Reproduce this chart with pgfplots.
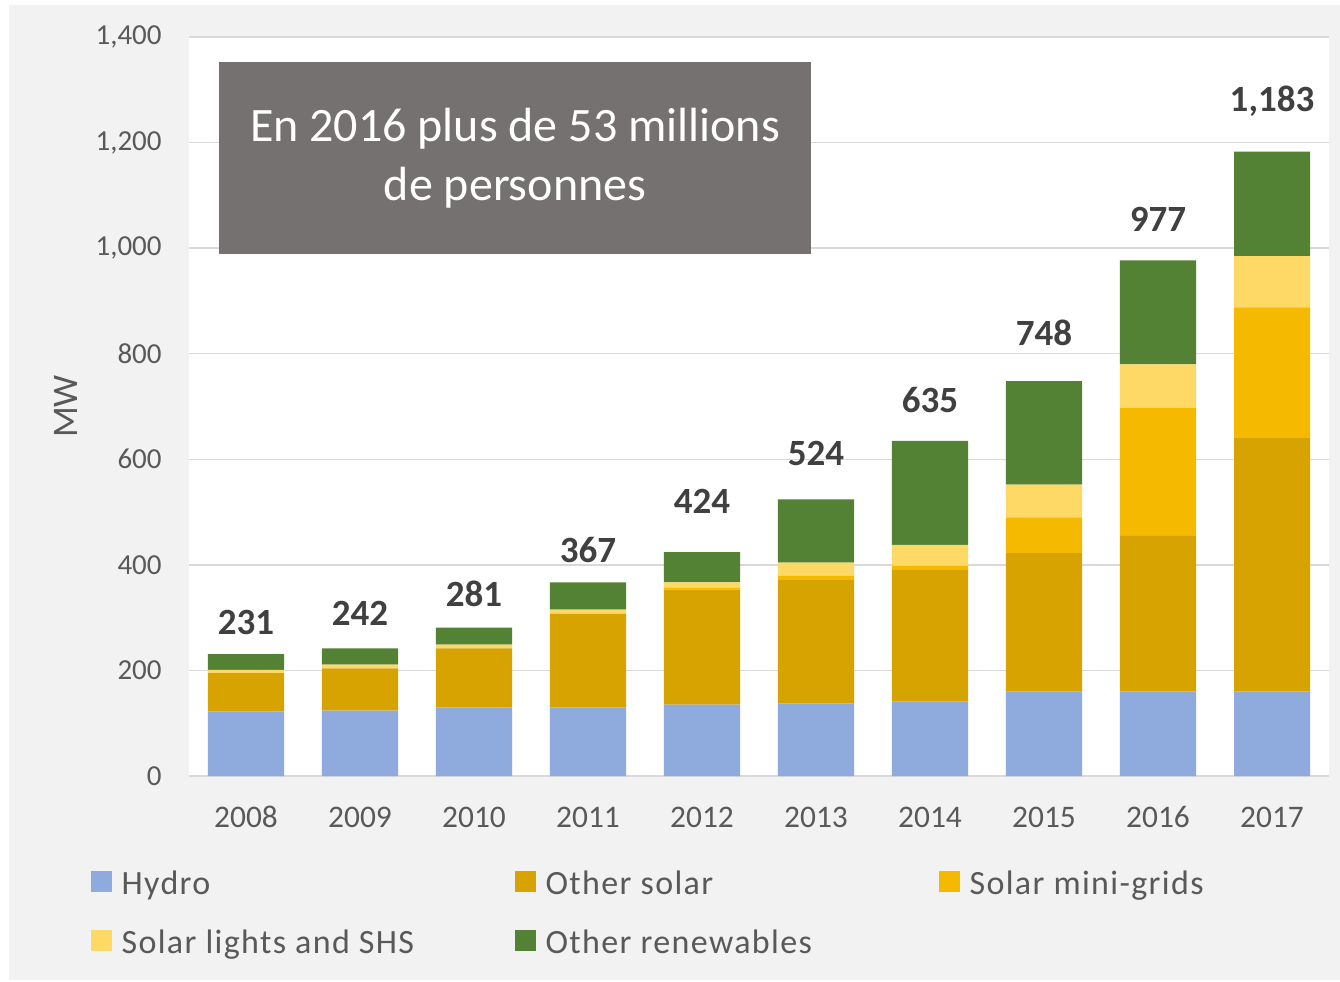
\documentclass[border=0pt]{standalone}
\usepackage{fontspec}
\setmainfont{Carlito}
\newfontfamily\legfont[LetterSpace=4]{Carlito}
\usepackage{pgfplots}
\usepackage{pgfplotstable}
\pgfplotsset{compat=1.18}

\definecolor{hydro}{HTML}{8FAADC}
\definecolor{othsolar}{HTML}{D6A300}
\definecolor{minigrid}{HTML}{F5BA00}
\definecolor{shs}{HTML}{FFD966}
\definecolor{othren}{HTML}{548235}
\definecolor{boxgray}{HTML}{767171}
\definecolor{bggray}{HTML}{F2F2F2}
\definecolor{gridgray}{HTML}{D9D9D9}
\definecolor{tickgray}{HTML}{595959}
\definecolor{labgray}{HTML}{404040}

% MW by year, off = label offset above bar top (pt)
\pgfplotstableread{
x hydro other mini shs ren lab off
0 122 73  0   6  30  231   16
1 124 80  0   7  31  242   17.5
2 130 112 0   7  32  281   17
3 130 177 0   8  52  367   16
4 135 218 4   10 57  424   25.5
5 137 234 8   25 120 524   23
6 141 249 8   40 197 635   20.5
7 160 262 68  62 196 748   24
8 160 295 242 83 197 977   20.5
9 160 480 248 97 198 1,183 25
}\mwdata

\pgfplotsset{
  sq/.style={fill=#1, draw=none,
    legend image code/.code={\fill[#1] (0pt,-2.5pt) rectangle (10.5pt,8pt);}},
}
\newcommand{\lent}[1]{\makebox[150pt][l]{#1}}

\begin{document}
\begin{tikzpicture}
\fill[bggray] (-90pt,-102pt) rectangle (575.5pt,385.5pt);
\begin{axis}[
    at={(0,0)}, anchor=south west,
    scale only axis, width=570pt, height=369.5pt,
    ybar stacked, bar width=0.667,
    xmin=-0.5, xmax=9.5, ymin=0, ymax=1400,
    xtick={0,...,9},
    xticklabels={2008,2009,2010,2011,2012,2013,2014,2015,2016,2017},
    ytick={0,200,...,1400},
    /pgf/number format/assume math mode=true,
    /pgf/number format/1000 sep={,},
    ymajorgrids,
    major grid style={draw=gridgray, line width=0.75pt},
    axis line style={draw=none},
    tick style={draw=none},
    axis background/.style={fill=white},
    yticklabel style={anchor=east, inner sep=0pt, xshift=-13.5pt,
        font=\fontsize{14.5}{17}\selectfont, text=tickgray},
    xticklabel style={anchor=base, inner sep=0pt, yshift=-25.75pt,
        font=\fontsize{15.7}{18}\selectfont, text=tickgray},
    ylabel={MW},
    ylabel style={at={(axis description cs:-0.108,0.5)}, anchor=center,
        font=\fontsize{18}{21}\selectfont, text=tickgray},
    legend columns=3,
    legend style={at={(-0.08596,-0.1286)}, anchor=north west,
        draw=none, fill=none, inner sep=0pt, outer sep=0pt,
        font=\legfont\fontsize{17}{20}\selectfont, text=tickgray,
        nodes={inner sep=0pt, text height=11pt, text depth=3.5pt},
        row sep=14pt,
        /tikz/every odd column/.append style={column sep=4.8pt},
        /tikz/every even column/.append style={column sep=46.7pt}},
]
\addplot[sq=hydro] table[x=x, y=hydro] {\mwdata};
\addlegendentry{\lent{Hydro}}
\addplot[sq=othsolar] table[x=x, y=other] {\mwdata};
\addlegendentry{\lent{Other solar}}
\addplot[sq=minigrid] table[x=x, y=mini] {\mwdata};
\addlegendentry{\lent{Solar mini-grids}}
\addplot[sq=shs] table[x=x, y=shs] {\mwdata};
\addlegendentry{\lent{Solar lights and SHS}}
\addplot[sq=othren,
    nodes near coords, point meta=explicit symbolic,
    visualization depends on={\thisrow{off}+0.13196*\thisrow{ren} \as \laboff},
    every node near coord/.append style={anchor=center, yshift=\laboff pt,
        font=\bfseries\fontsize{18.5}{21}\selectfont, text=labgray}]
    table[x=x, y=ren, meta=lab] {\mwdata};
\addlegendentry{\lent{Other renewables}}

\node[fill=boxgray, text=white, minimum width=296pt, minimum height=96pt,
    inner sep=0pt, align=center, font=\fontsize{24}{29.5}\selectfont]
    at (axis cs:2.36,1170.8) {\raisebox{-1.25pt}{\parbox{296pt}{\centering
    En 2016 plus de 53 millions\\de personnes}}};
\end{axis}
\pgfresetboundingbox
\path[use as bounding box] (-94.5pt,-102.5pt) rectangle (575.5pt,388pt);
\end{tikzpicture}
\end{document}
